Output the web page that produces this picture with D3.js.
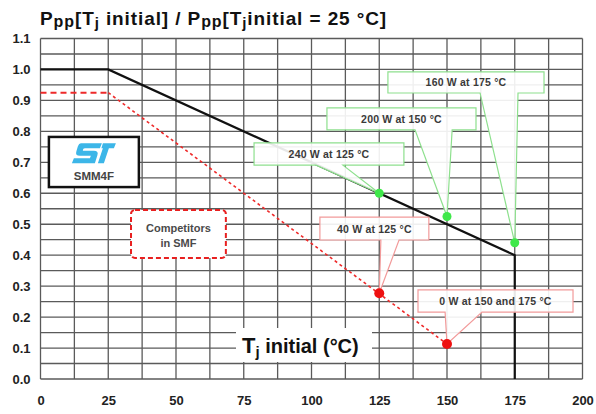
<!DOCTYPE html>
<html><head><meta charset="utf-8">
<script src="https://cdn.jsdelivr.net/npm/d3@7"></script>
<style>body{margin:0;background:#fff}svg{display:block}text{font-family:"Liberation Sans",Arial,Helvetica,sans-serif}</style>
</head><body>
<svg id="c" width="596" height="414"></svg>
<script>
// ---- data ----
const xTickValues = [0, 25, 50, 75, 100, 125, 150, 175, 200];
const yTickValues = [0.0, 0.1, 0.2, 0.3, 0.4, 0.5, 0.6, 0.7, 0.8, 0.9, 1.0, 1.1];
const smm4fTemp = [0, 25, 175, 175];
const smm4fRatio = [1.0, 1.0, 0.4, 0.0];
const compTemp = [0, 25, 150];
const compRatio = [0.925, 0.925, 0.113];
const smm4fPointTemp = [125, 150, 175];
const smm4fPointRatio = [0.6, 0.525, 0.44];
const smm4fPointLabels = ["240 W at 125 °C", "200 W at 150 °C", "160 W at 175 °C"];
const compPointTemp = [125, 150];
const compPointRatio = [0.277, 0.113];
const compPointLabels = ["40 W at 125 °C", "0 W at 150 and 175 °C"];

// ---- layout (in chart units) ----
const smm4fBoxes = [
  {x0: 78.8, x1: 134.1, yT: 0.763, yB: 0.691, b0: 101.7, b1: 111.6},
  {x0: 105.7, x1: 160.7, yT: 0.876, yB: 0.805, b0: 138.2, b1: 151.9},
  {x0: 128.2, x1: 185.8, yT: 0.992, yB: 0.924, b0: 162.2, b1: 176.2}
];
const compBoxes = [
  {x0: 103.1, x1: 143.3, yT: 0.523, yB: 0.449, b0: 125.6, b1: 132.3},
  {x0: 139.3, x1: 196.5, yT: 0.288, yB: 0.216, b0: 149.3, b1: 162.9}
];

const svg = d3.select("#c");
const x = d3.scaleLinear().domain([0, 200]).range([40.5, 582.5]);
const y = d3.scaleLinear().domain([0, 1.1]).range([379, 38.5]);

// grid
const grid = svg.append("g").attr("stroke", "#5a5a5a").attr("stroke-width", 1.3);
grid.selectAll("line.v").data(d3.range(0, 200.001, 12.5)).join("line")
  .attr("x1", d => x(d)).attr("x2", d => x(d)).attr("y1", y(0)).attr("y2", y(1.1));
grid.selectAll("line.h").data(d3.range(0, 1.1001, 0.05)).join("line")
  .attr("x1", x(0)).attr("x2", x(200)).attr("y1", d => y(d)).attr("y2", d => y(d));

// axes labels
const yAxis = d3.axisLeft(y).tickValues(yTickValues).tickFormat(d3.format(".1f")).tickSize(0).tickPadding(10);
const ya = svg.append("g").attr("transform", `translate(${x(0)},0)`).call(yAxis);
ya.select(".domain").remove();
ya.selectAll("text").attr("font-size", 13).attr("font-weight", "bold").attr("fill", "#222")
  .style("font-family", '"Liberation Sans",Arial,sans-serif');
const xAxis = d3.axisBottom(x).tickValues(xTickValues).tickFormat(d3.format("d")).tickSize(0).tickPadding(17);
const xa = svg.append("g").attr("transform", `translate(0,${y(0)})`).call(xAxis);
xa.select(".domain").remove();
xa.selectAll("text").attr("font-size", 13).attr("font-weight", "bold").attr("fill", "#222")
  .style("font-family", '"Liberation Sans",Arial,sans-serif');

// title
const title = svg.append("text").attr("x", 40).attr("y", 25).attr("font-weight", "bold").attr("fill", "#111")
  .attr("letter-spacing", 0.9);
const tparts = [["P",19,0],["pp",16,2],["[T",19,0],["j",15,3],[" initial] / P",19,0],["pp",16,2],["[T",19,0],["j",15,3],["initial = 25 °C]",19,0]];
let prevShift = 0;
tparts.forEach(([t, fs, dy]) => {
  title.append("tspan").attr("font-size", fs).attr("dy", dy - prevShift).text(t);
  prevShift = dy;
});

// series lines
const line = d3.line().x(d => x(d[0])).y(d => y(d[1]));
svg.append("path").datum(d3.zip(smm4fTemp, smm4fRatio)).attr("d", line)
  .attr("fill", "none").attr("stroke", "#111").attr("stroke-width", 2.2);
const compPts = d3.zip(compTemp, compRatio);
svg.append("path").datum(compPts.slice(0, 2)).attr("d", line)
  .attr("fill", "none").attr("stroke", "#ee2a2a").attr("stroke-width", 2).attr("stroke-dasharray", "6,4");
svg.append("path").datum(compPts.slice(1)).attr("d", line)
  .attr("fill", "none").attr("stroke", "#ee2a2a").attr("stroke-width", 1.6).attr("stroke-dasharray", "3,3");

// callouts
function callout(b, px, py) {
  const X0 = x(b.x0), X1 = x(b.x1), YT = y(b.yT), YB = y(b.yB);
  const p = d3.path();
  p.moveTo(X0, YT); p.lineTo(X1, YT); p.lineTo(X1, YB); p.lineTo(x(b.b1), YB);
  p.lineTo(px, py); p.lineTo(x(b.b0), YB); p.lineTo(X0, YB); p.closePath();
  return p.toString();
}
function drawCallouts(temps, ratios, labels, boxes, stroke) {
  const g = svg.append("g");
  temps.forEach((t, i) => {
    const b = boxes[i];
    g.append("path").attr("d", callout(b, x(t), y(ratios[i])))
      .attr("fill", "#fff").attr("fill-opacity", 0.9).attr("stroke", stroke).attr("stroke-width", 1.2);
    g.append("text").attr("x", (x(b.x0) + x(b.x1)) / 2).attr("y", (y(b.yT) + y(b.yB)) / 2 + 4)
      .attr("text-anchor", "middle").attr("font-size", 10.5).attr("font-weight", "bold")
      .attr("letter-spacing", 0.2).attr("fill", "#3a3a3a").text(labels[i]);
  });
}
drawCallouts(smm4fPointTemp, smm4fPointRatio, smm4fPointLabels, smm4fBoxes, "#8ee08e");
drawCallouts(compPointTemp, compPointRatio, compPointLabels, compBoxes, "#f29a9a");

// points
svg.selectAll("circle.g").data(d3.zip(smm4fPointTemp, smm4fPointRatio)).join("circle")
  .attr("cx", d => x(d[0])).attr("cy", d => y(d[1])).attr("r", 4.5).attr("fill", "#3fe84a");
svg.selectAll("circle.r").data(d3.zip(compPointTemp, compPointRatio)).join("circle")
  .attr("cx", d => x(d[0])).attr("cy", d => y(d[1])).attr("r", 5).attr("fill", "#ee1111");

// Competitors legend box
svg.append("rect").attr("x", x(33.4)).attr("y", y(0.546)).attr("width", x(68.4) - x(33.4)).attr("height", y(0.391) - y(0.546))
  .attr("rx", 4).attr("fill", "#fff").attr("stroke", "#e82020").attr("stroke-width", 2).attr("stroke-dasharray", "5,3");
const cx = (x(33.4) + x(68.4)) / 2;
svg.append("text").attr("x", cx).attr("y", y(0.475)).attr("text-anchor", "middle").attr("font-size", 11)
  .attr("font-weight", "bold").attr("fill", "#4a4a4a").text("Competitors");
svg.append("text").attr("x", cx).attr("y", y(0.425)).attr("text-anchor", "middle").attr("font-size", 11)
  .attr("font-weight", "bold").attr("fill", "#4a4a4a").text("in SMF");

// ST box
svg.append("rect").attr("x", x(3.1)).attr("y", y(0.782)).attr("width", x(36.3) - x(3.1)).attr("height", y(0.620) - y(0.782))
  .attr("fill", "#fff").attr("stroke", "#111").attr("stroke-width", 2.5);
const logo = svg.append("g").attr("transform", `translate(${(x(3.1) + x(36.3)) / 2 - 22},${y(0.762)})`).attr("fill", "#3cb6e8");
logo.append("path").attr("d", "M9,0 L30,0 L28,5 L13,5 Q11,5 11,7 L11,7.5 L22,7.5 Q27,7.5 25.5,12 L23,20 L0,20 L2,15 L18,15 L19,12.5 L8,12.5 Q3,12.5 4.5,8 L6,3 Q7,0 9,0 Z");
logo.append("path").attr("d", "M31,0 L44,0 L42,5 L37,5 L32,20 L26,20 L31,5 L29.5,5 Z");
svg.append("text").attr("x", (x(3.1) + x(36.3)) / 2).attr("y", y(0.643)).attr("text-anchor", "middle")
  .attr("font-size", 11.5).attr("font-weight", "bold").attr("fill", "#444").text("SMM4F");

// x-axis title
svg.append("rect").attr("x", 236).attr("y", 328).attr("width", 136).attr("height", 34).attr("fill", "#fff");
const xt = svg.append("text").attr("x", 242).attr("y", 353).attr("font-weight", "bold").attr("fill", "#111");
xt.append("tspan").attr("font-size", 22).text("T");
xt.append("tspan").attr("font-size", 15).attr("dy", 4).text("j");
xt.append("tspan").attr("font-size", 20).attr("dy", -4).text(" initial (°C)");
</script>
</body></html>
